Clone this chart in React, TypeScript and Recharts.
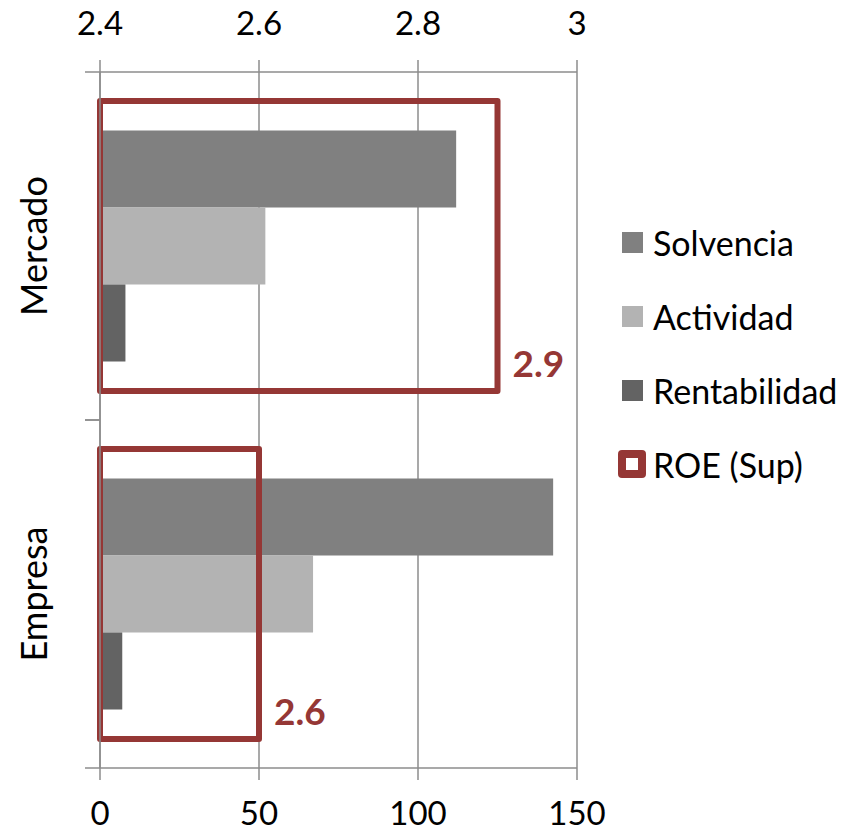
import { Bar, BarChart, CartesianGrid, LabelList, Legend, XAxis, YAxis } from "recharts";

const categories = ["Mercado", "Empresa"];
const solvencia = [112, 142.5];
const actividad = [52, 67];
const rentabilidad = [8, 7];
const roeSup = [2.9, 2.6];
const bottomTicks = [0, 50, 100, 150];
const topTicks = [2.4, 2.6, 2.8, 3];

const series = [
  { key: "solvencia", name: "Solvencia", color: "#808080" },
  { key: "actividad", name: "Actividad", color: "#b3b3b3" },
  { key: "rentabilidad", name: "Rentabilidad", color: "#636363" },
];

const ROE_COLOR = "#953735";
const AXIS_COLOR = "#8c8c8c";
const FONT = "Lato, 'Open Sans', sans-serif";
const CAT_TICK_LEN = 15;
const CAT_TICK_GAP = 38;

const data = categories.map((name, i) => ({
  name,
  solvencia: solvencia[i],
  actividad: actividad[i],
  rentabilidad: rentabilidad[i],
  roe: roeSup[i],
}));

const axisLine = { stroke: AXIS_COLOR, strokeWidth: 1.5 };
const tickStyle = { fill: "#000", fontSize: 33, fontFamily: FONT };

// category label rotated, tick marks at the band edges instead of the centre
const CategoryTick = (props: any) => {
  const { x, y, payload } = props;
  const half = payload.offset ?? 0;
  const x1 = x + CAT_TICK_GAP;
  const x2 = x1 + CAT_TICK_LEN;
  return (
    <g>
      <line x1={x1} x2={x2} y1={y - half} y2={y - half} {...axisLine} />
      <line x1={x1} x2={x2} y1={y + half} y2={y + half} {...axisLine} />
      <text
        x={x}
        y={y}
        transform={`rotate(-90, ${x}, ${y})`}
        textAnchor="middle"
        fontSize={36}
        fontFamily={FONT}
        fill="#000"
      >
        {payload.value}
      </text>
    </g>
  );
};

const RoeLabel = (props: any) => {
  const vb = props.viewBox ?? props;
  const { x, y, width, height } = vb;
  return (
    <text
      x={x + width + 15}
      y={y + height - 14}
      fill={ROE_COLOR}
      fontWeight="bold"
      fontSize={37}
      fontFamily={FONT}
    >
      {Number(props.value).toFixed(1)}
    </text>
  );
};

const LegendContent = () => (
  <div style={{ fontFamily: FONT, fontSize: 34, color: "#000" }}>
    {series.map((s) => (
      <div key={s.key} style={{ height: 74, display: "flex", alignItems: "center" }}>
        <span
          style={{
            display: "inline-block",
            width: 21,
            height: 21,
            background: s.color,
            marginLeft: 4,
            marginRight: 10,
          }}
        />
        {s.name}
      </div>
    ))}
    <div style={{ height: 74, display: "flex", alignItems: "center" }}>
      <span
        style={{
          display: "inline-block",
          width: 12,
          height: 12,
          border: `8px solid ${ROE_COLOR}`,
          borderRadius: 4,
          marginRight: 7,
        }}
      />
      ROE (Sup)
    </div>
  </div>
);

const App = () => {
  return (
    <div style={{ position: "absolute", left: 0, top: 0 }}>
      <BarChart
        width={858}
        height={831}
        data={data}
        layout="vertical"
        margin={{ top: 0, right: 281, bottom: 0, left: 0 }}
        barGap={0}
        barCategoryGap="16.8%"
      >
        <CartesianGrid
          horizontal={false}
          stroke={AXIS_COLOR}
          strokeWidth={1.5}
          xAxisId="bottom"
          yAxisId="cat"
        />
        <XAxis
          xAxisId="bottom"
          orientation="bottom"
          type="number"
          domain={[0, 150]}
          ticks={bottomTicks}
          interval={0}
          height={63}
          tickSize={12}
          tickMargin={22}
          axisLine={axisLine}
          tickLine={axisLine}
          tick={tickStyle}
        />
        <XAxis
          xAxisId="top"
          orientation="top"
          type="number"
          domain={[2.4, 3]}
          ticks={topTicks}
          interval={0}
          height={72}
          tickSize={12}
          tickMargin={25}
          axisLine={axisLine}
          tickLine={axisLine}
          tick={tickStyle}
        />
        <YAxis
          yAxisId="cat"
          type="category"
          dataKey="name"
          width={100}
          tickSize={CAT_TICK_LEN}
          tickMargin={CAT_TICK_GAP}
          tickLine={false}
          axisLine={axisLine}
          tick={<CategoryTick />}
        />
        <YAxis yAxisId="roe" type="category" dataKey="name" hide />
        {series.map((s) => (
          <Bar
            key={s.key}
            dataKey={s.key}
            name={s.name}
            fill={s.color}
            xAxisId="bottom"
            yAxisId="cat"
            isAnimationActive={false}
          />
        ))}
        <Bar
          dataKey="roe"
          name="ROE (Sup)"
          xAxisId="top"
          yAxisId="roe"
          fill="none"
          stroke={ROE_COLOR}
          strokeWidth={6}
          strokeLinejoin="round"
          barSize={290}
          isAnimationActive={false}
        >
          <LabelList dataKey="roe" content={RoeLabel} />
        </Bar>
        <Legend
          layout="horizontal"
          verticalAlign="middle"
          align="center"
          content={LegendContent}
          wrapperStyle={{ left: 618, top: 205, width: 240, height: 300 }}
        />
      </BarChart>
    </div>
  );
};

export default App;
